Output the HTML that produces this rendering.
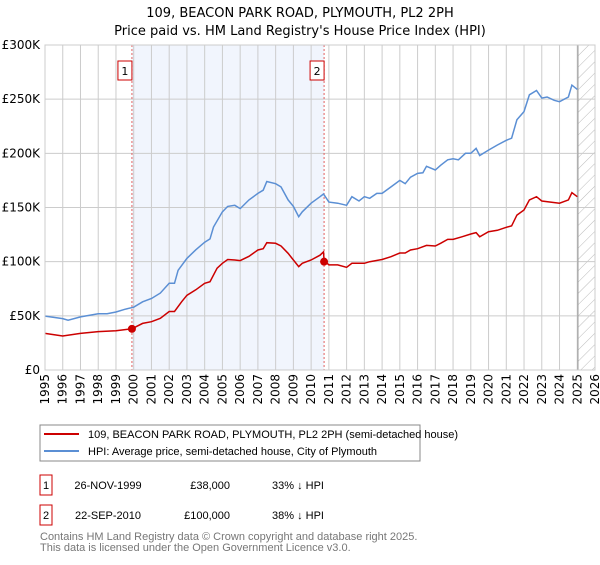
<!DOCTYPE html>
<html><head><meta charset="utf-8"><style>
body{margin:0;background:#fff;font-family:"Liberation Sans","DejaVu Sans",sans-serif;}
svg text{font-family:"DejaVu Sans","Liberation Sans",sans-serif;}
svg text.lib{font-family:"Liberation Sans",sans-serif;}
</style></head><body>
<svg id="c" width="600" height="560" viewBox="0 0 600 560">
<defs><pattern id="hatch" width="8" height="8" patternUnits="userSpaceOnUse" patternTransform="rotate(45)"><line x1="0" y1="0" x2="0" y2="8" stroke="#bbb" stroke-width="1"/></pattern></defs>
<text x="300" y="17" text-anchor="middle" font-size="13" fill="#000">109, BEACON PARK ROAD, PLYMOUTH, PL2 2PH</text>
<text x="300" y="35" text-anchor="middle" font-size="13" fill="#000">Price paid vs. HM Land Registry's House Price Index (HPI)</text>
<g id="plot"></g>
<rect x="40" y="425" width="380" height="36" fill="#fff" stroke="#888"/>
<line x1="44" y1="434" x2="79" y2="434" stroke="#cc0000" stroke-width="2"/>
<text class="lib" x="88" y="438" font-size="11">109, BEACON PARK ROAD, PLYMOUTH, PL2 2PH (semi-detached house)</text>
<line x1="44" y1="451" x2="79" y2="451" stroke="#5b8fd4" stroke-width="2"/>
<text class="lib" x="88" y="455" font-size="11">HPI: Average price, semi-detached house, City of Plymouth</text>
<g font-size="11">
<rect x="40" y="475" width="12" height="20" fill="#fff" stroke="#cc0000"/>
<text class="lib" x="46" y="489" text-anchor="middle">1</text>
<text class="lib" x="108" y="489" text-anchor="middle">26-NOV-1999</text>
<text class="lib" x="230" y="489" text-anchor="end">£38,000</text>
<text class="lib" x="272" y="489">33% ↓ HPI</text>
<rect x="40" y="505" width="12" height="20" fill="#fff" stroke="#cc0000"/>
<text class="lib" x="46" y="519" text-anchor="middle">2</text>
<text class="lib" x="108" y="519" text-anchor="middle">22-SEP-2010</text>
<text class="lib" x="230" y="519" text-anchor="end">£100,000</text>
<text class="lib" x="272" y="519">38% ↓ HPI</text>
</g>
<text class="lib" x="40" y="540" font-size="11" fill="#777">Contains HM Land Registry data © Crown copyright and database right 2025.</text>
<text class="lib" x="40" y="551" font-size="11" fill="#777">This data is licensed under the Open Government Licence v3.0.</text>
</svg>
<script>
const yTicks=[0,50,100,150,200,250,300];
const yTickLabels=["£0","£50K","£100K","£150K","£200K","£250K","£300K"];
const xYears=[1995,1996,1997,1998,1999,2000,2001,2002,2003,2004,2005,2006,2007,2008,2009,2010,2011,2012,2013,2014,2015,2016,2017,2018,2019,2020,2021,2022,2023,2024,2025,2026];
const hpiT=[1995,1996,1996.3,1997,1998,1998.5,1999,1999.5,2000,2000.5,2001,2001.5,2002,2002.3,2002.5,2003,2003.5,2004,2004.3,2004.5,2005,2005.3,2005.7,2006,2006.5,2007,2007.3,2007.5,2008,2008.3,2008.7,2009,2009.3,2009.5,2010,2010.5,2010.7,2011,2011.5,2012,2012.3,2012.7,2013,2013.3,2013.7,2014,2014.5,2015,2015.3,2015.6,2016,2016.3,2016.5,2017,2017.3,2017.7,2018,2018.3,2018.7,2019,2019.3,2019.5,2020,2020.5,2021,2021.3,2021.6,2022,2022.3,2022.7,2023,2023.3,2023.7,2024,2024.5,2024.7,2025];
const hpiV=[49.8,47.4,46,49,52,52,53.5,56,58,63,66,71,80,80,92,103,111,118,121,132,146,151,152,149,157,163,166,174,172,169,157,151,141.5,146,154,160,162.5,155,154,152,160,156,160,158.5,163,163,169,175,172,178,181.5,182,188,184.6,189,194,195,194,200,200,204.6,198,203,207.7,212,214,231,238.5,254,258,251,252,249,247.7,252,263,259];
const priceT=[1995,1996,1997,1998,1999,1999.9,2000.5,2001,2001.5,2002,2002.3,2002.7,2003,2003.5,2004,2004.3,2004.7,2005,2005.3,2005.7,2006,2006.5,2007,2007.3,2007.5,2008,2008.3,2008.7,2009,2009.3,2009.5,2010,2010.5,2010.7,2010.73,2011,2011.5,2012,2012.3,2013,2013.3,2014,2014.5,2015,2015.3,2015.6,2016,2016.5,2017,2017.3,2017.7,2018,2018.5,2019,2019.3,2019.5,2020,2020.5,2021,2021.3,2021.6,2022,2022.3,2022.7,2023,2023.5,2024,2024.5,2024.7,2025];
const priceV=[33.8,31.4,33.8,35.4,36.3,38,43,44.6,47.7,54,54,63,69,74,80,81.5,94,98.5,102,101.5,101,105,110.8,112,117.5,117,114.5,107.7,101.5,95.4,98.5,101.5,106,109,100.9,97,97,94.8,98.5,98.5,100,102,104.6,108,108,110.8,112,115,114.5,117,120.6,120.6,123,125.5,126.8,123,127.7,129,131.7,133,143,147.7,157,160,156,155,154,157,163.7,160];
const saleT=[1999.9,2010.73];
const saleV=[38,100];
const saleLabels=["1","2"];
const hatchStart=2025.04;

const L=45,R=595,T=45,B=370;
const X=t=>L+(t-1995)/(2026-1995)*(R-L);
const Y=v=>B-v/300*(B-T);
const NS="http://www.w3.org/2000/svg";
const g=document.getElementById('plot');
function mk(tag,attrs,parent){const e=document.createElementNS(NS,tag);for(const k in attrs)e.setAttribute(k,attrs[k]);(parent||g).appendChild(e);return e;}
let e;
e=mk('rect',{x:L,y:T,width:R-L,height:B-T,fill:'#fff'});


e=mk('rect',{x:X(saleT[0]),y:T,width:X(saleT[1])-X(saleT[0]),height:B-T,fill:'#eef2fc',opacity:0.8});


e=mk('rect',{x:X(hatchStart),y:T,width:R-X(hatchStart),height:B-T,fill:'url(#hatch)'});


xYears.forEach(yr=>{
 e=mk('line',{x1:X(yr),x2:X(yr),y1:T,y2:B,stroke:'#ccc','stroke-width':1});
 
 
 e=mk('text',{x:0,y:0,'font-size':12,'text-anchor':'end',transform:`translate(${X(yr)+4},374) rotate(-90)`});
 e.textContent=yr;
 
 
});
yTicks.forEach((v,i)=>{
 e=mk('line',{x1:L,x2:R,y1:Y(v),y2:Y(v),stroke:'#ccc','stroke-width':1});
 
 
 e=mk('text',{x:40,y:Y(v)+4,'font-size':12,'text-anchor':'end'});
 e.textContent=yTickLabels[i];
 
 
});
e=mk('line',{x1:X(hatchStart),x2:X(hatchStart),y1:T,y2:B,stroke:'#999','stroke-width':1});


saleT.forEach((t,i)=>{
 e=mk('line',{x1:X(t),x2:X(t),y1:T,y2:B,stroke:'#e06060','stroke-width':1,'stroke-dasharray':'2,2'});
 
 
});
function path(ts,vs){return ts.map((t,i)=>(i?'L':'M')+X(t).toFixed(1)+','+Y(vs[i]).toFixed(1)).join('');}
e=mk('path',{d:path(hpiT,hpiV),fill:'none',stroke:'#5b8fd4','stroke-width':1.5});


e=mk('path',{d:path(priceT,priceV),fill:'none',stroke:'#cc0000','stroke-width':1.5});


saleT.forEach((t,i)=>{
 e=mk('circle',{cx:X(t),cy:Y(saleV[i]),r:4,fill:'#cc0000'});
 
 
 e=mk('rect',{x:X(t)-14,y:61,width:14,height:19,fill:'#fff',stroke:'#cc0000'});
 
 
 e=mk('text',{x:X(t)-7,y:75,'font-size':11,'text-anchor':'middle'});
 e.textContent=saleLabels[i];
 
 
});
e=mk('rect',{x:L,y:T,width:R-L,height:B-T,fill:'none',stroke:'#ccc'});


</script>
</body></html>
